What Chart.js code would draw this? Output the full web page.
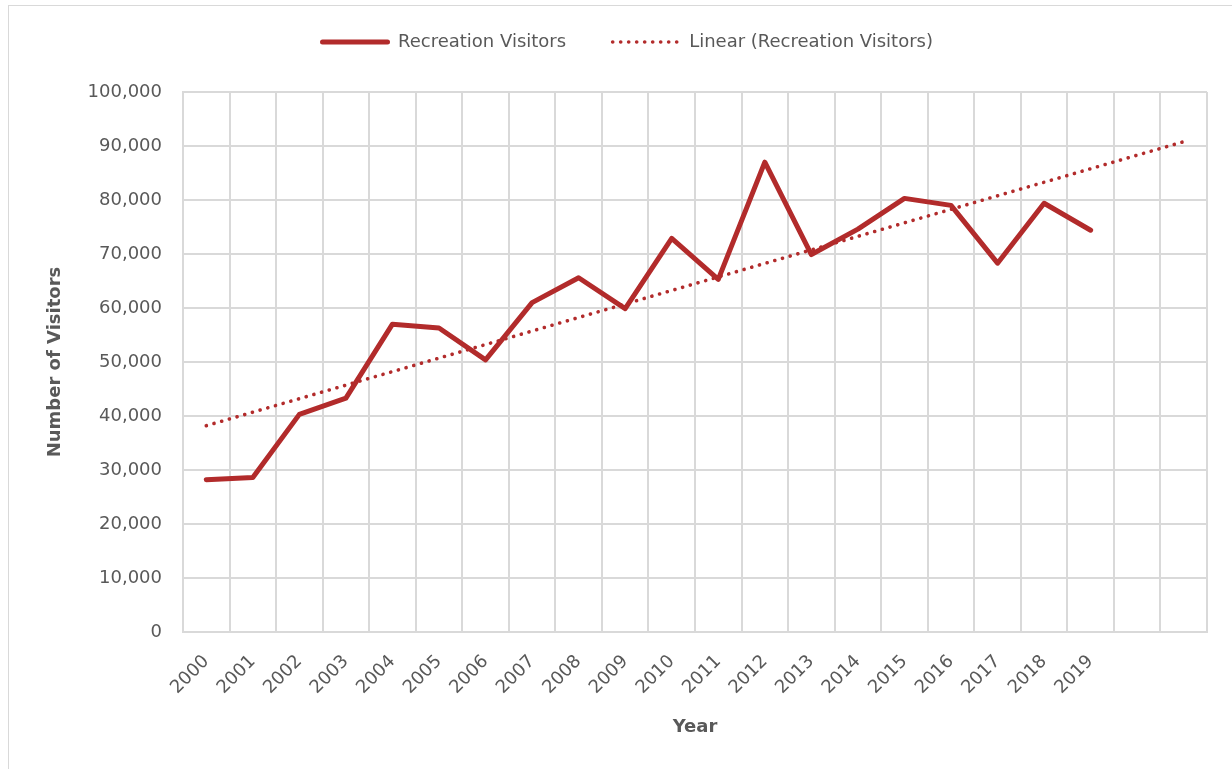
<!DOCTYPE html>
<html>
<head>
<meta charset="utf-8">
<script src="https://cdn.jsdelivr.net/npm/chart.js@4.4.1/dist/chart.umd.min.js"></script>
<style>
  html, body { margin: 0; padding: 0; background: #ffffff; overflow: hidden; }
  #wrap { position: relative; width: 1232px; height: 769px; }
  #frame { position: absolute; left: 8px; top: 5px; width: 1300px; height: 800px;
           border: 1px solid #d9d9d9; box-sizing: border-box; }
  #c { position: absolute; left: 0; top: 0; }
</style>
</head>
<body>
<div id="wrap">
  <div id="frame"></div>
  <canvas id="c" width="1232" height="769"></canvas>
</div>
<script>
// ---- data ----
const years = ['2000','2001','2002','2003','2004','2005','2006','2007','2008','2009',
               '2010','2011','2012','2013','2014','2015','2016','2017','2018','2019'];
const forecastLabels = ['', ''];          // two forecast periods of the trendline (unlabelled)
const visitors = [28200, 28600, 40300, 43300, 57000, 56300, 50400, 61000, 65600, 59900,
                  72900, 65300, 87000, 69900, 74600, 80300, 79000, 68300, 79400, 74400];
const trendValues = [38200, 90800];       // linear trendline at 2000 and at end of forecast
const yTickValues = [0, 10000, 20000, 30000, 40000, 50000, 60000, 70000, 80000, 90000, 100000];
const seriesName = 'Recreation Visitors';
const trendName = 'Linear (Recreation Visitors)';
const xTitle = 'Year';
const yTitle = 'Number of Visitors';

// ---- styling ----
const FONT = "'Century Gothic', 'DejaVu Sans', sans-serif";
const TEXT = '#595959';
const GRID = '#d9d9d9';
const RED = '#b22b2b';

const labels = years.concat(forecastLabels);
const trendData = labels.map((_, i) =>
  i === 0 ? trendValues[0] : (i === labels.length - 1 ? trendValues[1] : null));

const legendPlugin = {
  id: 'excelLegend',
  afterDraw(chart) {
    const ctx = chart.ctx;
    ctx.save();
    ctx.font = '18px ' + FONT;
    const items = chart.data.datasets.map(ds => ({
      text: ds.label, color: ds.borderColor, dash: ds.borderDash || [], width: ds.borderWidth
    }));
    const sample = 70, gap = 8, itemGap = 45;
    const widths = items.map(it => sample + gap + ctx.measureText(it.text).width);
    const total = widths.reduce((a, b) => a + b, 0) + itemGap * (items.length - 1);
    let x = 626.5 - total / 2;
    const y = 42;
    items.forEach((it, i) => {
      ctx.beginPath();
      ctx.strokeStyle = it.color;
      ctx.lineWidth = it.width;
      ctx.lineCap = 'round';
      ctx.setLineDash(it.dash);
      const inset = it.dash.length ? 1.5 : it.width / 2;
      ctx.moveTo(x + inset, y);
      ctx.lineTo(x + sample - inset, y);
      ctx.stroke();
      ctx.setLineDash([]);
      ctx.fillStyle = TEXT;
      ctx.textBaseline = 'middle';
      ctx.textAlign = 'left';
      ctx.fillText(it.text, x + sample + gap, y);
      x += widths[i] + itemGap;
    });
    ctx.restore();
  }
};

new Chart(document.getElementById('c'), {
  type: 'line',
  data: {
    labels: labels,
    datasets: [
      {
        label: seriesName,
        data: visitors,
        borderColor: RED,
        backgroundColor: RED,
        borderWidth: 5,
        borderJoinStyle: 'round',
        borderCapStyle: 'round',
        pointRadius: 0,
        tension: 0,
        fill: false,
        order: 1
      },
      {
        label: trendName,
        data: trendData,
        borderColor: RED,
        backgroundColor: RED,
        borderWidth: 3.6,
        borderDash: [0.1, 7.9],
        borderCapStyle: 'round',
        pointRadius: 0,
        spanGaps: true,
        tension: 0,
        fill: false,
        order: 2
      }
    ]
  },
  options: {
    responsive: false,
    devicePixelRatio: 1,
    animation: false,
    layout: { padding: { top: 92, right: 25, bottom: 0, left: 8 } },
    plugins: {
      legend: { display: false },
      tooltip: { enabled: false },
      title: { display: false }
    },
    scales: {
      x: {
        type: 'category',
        offset: true,
        grid: { display: true, offset: true, color: GRID, lineWidth: 2, drawTicks: false },
        border: { display: true, color: GRID, width: 2 },
        ticks: {
          autoSkip: false,
          minRotation: 45,
          maxRotation: 45,
          padding: 19,
          color: TEXT,
          font: { family: FONT, size: 18 }
        },
        title: {
          display: true,
          text: xTitle,
          color: TEXT,
          font: { family: FONT, size: 18, weight: 'bold' },
          padding: { top: 0, bottom: 31 }
        },
        afterFit(scale) { scale.height = 137; }
      },
      y: {
        min: 0,
        max: 100000,
        afterBuildTicks(scale) { scale.ticks = yTickValues.map(v => ({ value: v })); },
        grid: { color: GRID, lineWidth: 2, drawTicks: false },
        border: { display: true, color: GRID, width: 2 },
        ticks: {
          padding: 21,
          color: TEXT,
          font: { family: FONT, size: 18 },
          callback: v => Number(v).toLocaleString('en-US')
        },
        title: {
          display: true,
          text: yTitle,
          color: TEXT,
          font: { family: FONT, size: 18, weight: 'bold' },
          padding: { top: 37, bottom: 0 }
        },
        afterFit(scale) { scale.width = 175; }
      }
    }
  },
  plugins: [legendPlugin]
});
</script>
</body>
</html>
